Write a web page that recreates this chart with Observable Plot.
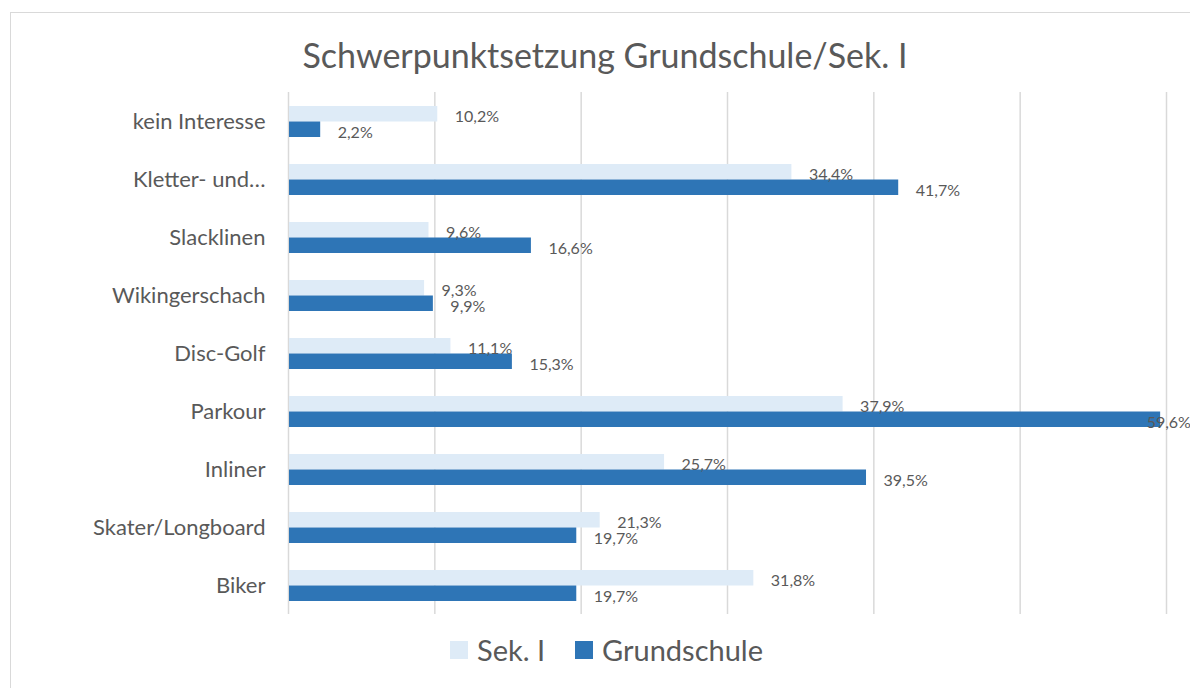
<!DOCTYPE html>
<html>
<head>
<meta charset="utf-8">
<script src="https://cdn.jsdelivr.net/npm/d3@7"></script>
<script src="https://cdn.jsdelivr.net/npm/@observablehq/plot@0.6"></script>
<style>
  html, body { margin: 0; padding: 0; background: #fff; overflow: hidden; width: 1190px; height: 688px; }
  body { position: relative; font-family: Lato, "Open Sans", sans-serif; color: #595959; }
  #frame { position: absolute; left: 10px; top: 12px; width: 1200px; height: 700px; border: 1.5px solid #d9d9d9; box-sizing: border-box; }
  #title { position: absolute; left: 10px; width: 1190px; top: 38px; text-align: center; font-size: 34px; line-height: 34px; color: #595959; white-space: nowrap; }
  #chart { position: absolute; left: 0; top: 80px; }
  .lg { position: absolute; top: 635px; height: 29px; display: flex; align-items: center; font-size: 29px; line-height: 29px; color: #595959; white-space: nowrap; }
  .sw { width: 18px; height: 18px; margin-right: 9px; display: inline-block; }
</style>
</head>
<body>
<div id="frame"></div>
<div id="title">Schwerpunktsetzung Grundschule/Sek. I</div>
<div id="chart"></div>
<div class="lg" style="left:450px"><span class="sw" id="sw1"></span><span id="lg1"></span></div>
<div class="lg" style="left:575px"><span class="sw" id="sw2"></span><span id="lg2"></span></div>
<script>
const categories = ["kein Interesse", "Kletter- und…", "Slacklinen", "Wikingerschach", "Disc-Golf", "Parkour", "Inliner", "Skater/Longboard", "Biker"];
const seriesNames = ["Sek. I", "Grundschule"];
const sek1Values = [10.2, 34.4, 9.6, 9.3, 11.1, 37.9, 25.7, 21.3, 31.8];
const grundschuleValues = [2.2, 41.7, 16.6, 9.9, 15.3, 59.6, 39.5, 19.7, 19.7];
const xTicks = [0, 10, 20, 30, 40, 50, 60];
const colors = ["#DEEBF7", "#2E75B6"];

const fmt = v => v.toFixed(1).replace(".", ",") + "%";
const sekData = categories.map((c, i) => ({category: c, value: sek1Values[i], label: fmt(sek1Values[i])}));
const gsData = categories.map((c, i) => ({category: c, value: grundschuleValues[i], label: fmt(grundschuleValues[i])}));

const xMax = 60;
const fits = d => d.value < 56;

const plot = Plot.plot({
  width: 1190,
  height: 560,
  marginTop: 12,
  marginBottom: 26,
  marginLeft: 288,
  marginRight: 24,
  style: {fontFamily: "Lato, 'Open Sans', sans-serif", color: "#595959", background: "transparent"},
  x: {domain: [0, xMax], axis: null},
  y: {domain: categories, paddingInner: 0.466, paddingOuter: 0.233, label: null, axis: null},
  marks: [
    Plot.ruleX(xTicks, {stroke: "#d9d9d9", strokeWidth: 1.5}),
    Plot.barX(sekData, {x: "value", y: "category", fill: colors[0], insetBottom: 15.5, insetLeft: 1}),
    Plot.barX(gsData, {x: "value", y: "category", fill: colors[1], insetTop: 15.5, insetLeft: 1}),
    Plot.axisY({tickSize: 0, tickPadding: 23, fontSize: 22, fill: "#595959", label: null}),
    Plot.text(sekData.filter(fits), {x: "value", y: "category", text: "label", textAnchor: "start", dx: 17, dy: -5.5, fontSize: 16, fill: "#595959"}),
    Plot.text(gsData.filter(fits), {x: "value", y: "category", text: "label", textAnchor: "start", dx: 17, dy: 10.5, fontSize: 16, fill: "#595959"}),
    Plot.text(gsData.filter(d => !fits(d)), {x: "value", y: "category", text: "label", textAnchor: "start", dx: -14, dy: 10.5, fontSize: 16, fill: "#595959"})
  ]
});
document.getElementById("chart").appendChild(plot);
document.getElementById("sw1").style.background = colors[0];
document.getElementById("sw2").style.background = colors[1];
document.getElementById("lg1").textContent = seriesNames[0];
document.getElementById("lg2").textContent = seriesNames[1];
</script>
</body>
</html>
